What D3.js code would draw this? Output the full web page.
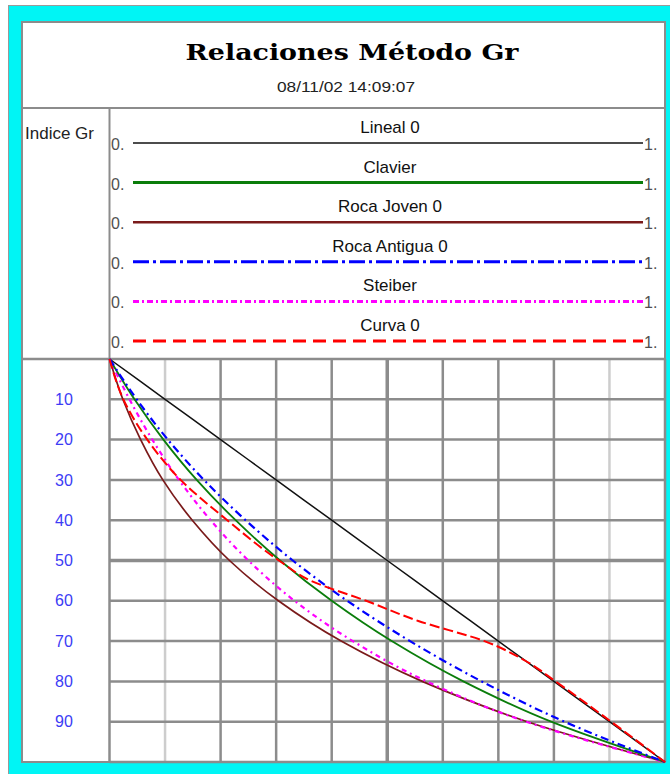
<!DOCTYPE html>
<html>
<head>
<meta charset="utf-8">
<script src="https://cdn.jsdelivr.net/npm/d3@7"></script>
<style>
  body { margin: 0; background: #fff; }
  text { font-family: "Liberation Sans", Arial, sans-serif; }
</style>
</head>
<body>
<div id="chart"></div>
<script>
// Relaciones Metodo Gr - Vsh vs Indice Gr

var width = 670
var height = 774

// data (Vsh fraction at each Indice Gr %)
var igr = [0, 10, 20, 30, 40, 50, 60, 70, 80, 90, 100]
var lineal = [0, 0.1, 0.2, 0.3, 0.4, 0.5, 0.6, 0.7, 0.8, 0.9, 1.0]
var clavier = [0, 0.045, 0.097, 0.157, 0.227, 0.307, 0.400, 0.508, 0.637, 0.795, 1.0]
var rocaJoven = [0, 0.024, 0.056, 0.096, 0.149, 0.216, 0.304, 0.417, 0.563, 0.752, 1.0]
var rocaAntigua = [0, 0.049, 0.105, 0.170, 0.245, 0.330, 0.428, 0.541, 0.670, 0.819, 1.0]
var steiber = [0, 0.036, 0.077, 0.125, 0.182, 0.250, 0.333, 0.438, 0.571, 0.750, 1.0]
var curvaIgr = [0, 10, 20, 30, 40, 50, 55, 60, 65, 70, 75, 80, 90, 100]
var curva = [0, 0.025, 0.068, 0.128, 0.212, 0.305, 0.362, 0.462, 0.556, 0.675, 0.750, 0.803, 0.903, 1.0]

var legendNames = ["Lineal 0", "Clavier", "Roca Joven 0", "Roca Antigua 0", "Steiber", "Curva 0"]
var yTickLabels = [10, 20, 30, 40, 50, 60, 70, 80, 90]

// styles per series
var series = [
  { name: "Lineal 0", ys: igr, xs: lineal, color: "#111", w: 1.5, legW: 1.5, dash: null, legDash: null },
  { name: "Clavier", ys: igr, xs: clavier, color: "#0a7d0a", w: 1.8, legW: 3, dash: null, legDash: null },
  { name: "Roca Joven 0", ys: igr, xs: rocaJoven, color: "#7a1a1a", w: 1.7, legW: 2.5, dash: null, legDash: null },
  { name: "Roca Antigua 0", ys: igr, xs: rocaAntigua, color: "#0000ff", w: 2.2, legW: 3, dash: "8,4,2,4", legDash: "16,4,3,4" },
  { name: "Steiber", ys: igr, xs: steiber, color: "#ff00ff", w: 2.2, legW: 3, dash: "5,4,2,4", legDash: "6,3,2,3" },
  { name: "Curva 0", ys: curvaIgr, xs: curva, color: "#ff0000", w: 2, legW: 3, dash: "10,4", legDash: "13,7" }
]

var svg = d3.select("#chart")
  .append("svg")
    .attr("width", width)
    .attr("height", height)

// outer cyan frame
svg.append("rect")
  .attr("x", 8.5).attr("y", 5.5)
  .attr("width", 700).attr("height", 800)
  .style("fill", "#00f5f5")
  .style("stroke", "#9a9a9a")

// white panel
var px0 = 22, px1 = 665, py0 = 22, py1 = 762
svg.append("rect")
  .attr("x", px0).attr("y", py0)
  .attr("width", px1 - px0).attr("height", py1 - py0)
  .style("fill", "#fff")
  .style("stroke", "#8c8c8c")
  .style("stroke-width", 2)

var gridColor = "#8c8c8c"

// title block
svg.append("line")
  .attr("x1", px0).attr("x2", px1).attr("y1", 108).attr("y2", 108)
  .style("stroke", gridColor).style("stroke-width", 2)

svg.append("text")
  .attr("x", 352).attr("y", 60)
  .attr("text-anchor", "middle")
  .attr("textLength", 333)
  .attr("lengthAdjust", "spacingAndGlyphs")
  .style("font-family", "'DejaVu Serif', serif")
  .style("font-weight", "bold")
  .style("font-size", "23px")
  .text("Relaciones Método Gr")

svg.append("text")
  .attr("x", 346).attr("y", 92)
  .attr("text-anchor", "middle")
  .attr("textLength", 138)
  .attr("lengthAdjust", "spacingAndGlyphs")
  .style("font-size", "14px")
  .style("fill", "#222")
  .text("08/11/02 14:09:07")

// legend block
var plotLeft = 109.5, plotRight = 665, plotTop = 359, plotBottom = 762

svg.append("line")
  .attr("x1", plotLeft).attr("x2", plotLeft).attr("y1", 108).attr("y2", plotTop)
  .style("stroke", gridColor).style("stroke-width", 2)

svg.append("text")
  .attr("x", 25).attr("y", 139)
  .style("font-size", "17px")
  .style("fill", "#222")
  .text("Indice Gr")

var legY = d3.scalePoint().domain(legendNames).range([143, 341])
var legX = d3.scaleLinear().domain([0, 1]).range([133, 643])

var leg = svg.append("g")
  .selectAll("g")
  .data(series)
  .enter()
  .append("g")

leg.append("line")
  .attr("x1", legX(0)).attr("x2", legX(1))
  .attr("y1", function(d) { return legY(d.name) })
  .attr("y2", function(d) { return legY(d.name) })
  .style("stroke", function(d) { return d.color })
  .style("stroke-width", function(d) { return d.legW })
  .style("stroke-dasharray", function(d) { return d.legDash })

leg.append("text")
  .attr("x", 390)
  .attr("y", function(d) { return legY(d.name) - 10 })
  .attr("text-anchor", "middle")
  .style("font-size", "17px")
  .style("fill", "#111")
  .text(function(d) { return d.name })

leg.append("text")
  .attr("x", 111)
  .attr("y", function(d) { return legY(d.name) + 7 })
  .style("font-size", "16px")
  .style("fill", "#505050")
  .text("0.")

leg.append("text")
  .attr("x", 644)
  .attr("y", function(d) { return legY(d.name) + 7 })
  .style("font-size", "16px")
  .style("fill", "#505050")
  .text("1.")

// chart block
var x = d3.scaleLinear().domain([0, 1]).range([plotLeft, plotRight])
var y = d3.scaleLinear().domain([0, 100]).range([plotTop, plotBottom])

var grid = svg.append("g")

grid.selectAll("line.v")
  .data(x.ticks(10))
  .enter()
  .append("line")
    .attr("class", "v")
    .attr("x1", function(d) { return x(d) })
    .attr("x2", function(d) { return x(d) })
    .attr("y1", plotTop).attr("y2", plotBottom)
    .style("stroke", function(d) { return (Math.abs(d - 0.1) < 1e-6 || Math.abs(d - 0.9) < 1e-6) ? "#cdcdcd" : gridColor })
    .style("stroke-width", function(d) { return Math.abs(d - 0.5) < 1e-6 ? 3.5 : 2.5 })

grid.selectAll("line.h")
  .data(y.ticks(10))
  .enter()
  .append("line")
    .attr("class", "h")
    .attr("x1", function(d) { return d === 0 ? px0 : plotLeft })
    .attr("x2", plotRight)
    .attr("y1", function(d) { return y(d) })
    .attr("y2", function(d) { return y(d) })
    .style("stroke", gridColor)
    .style("stroke-width", function(d) { return d === 50 ? 3.5 : 2.5 })

svg.append("g")
  .selectAll("text")
  .data(yTickLabels)
  .enter()
  .append("text")
    .attr("x", 64)
    .attr("y", function(d) { return y(d) })
    .attr("dy", "0.35em")
    .attr("text-anchor", "middle")
    .style("font-size", "16px")
    .style("fill", "#3c3cf5")
    .text(function(d) { return d })

var line = d3.line()
  .x(function(d) { return x(d[0]) })
  .y(function(d) { return y(d[1]) })
  .curve(d3.curveMonotoneY)

var drawOrder = ["Lineal 0", "Roca Joven 0", "Steiber", "Clavier", "Roca Antigua 0", "Curva 0"]

svg.append("g")
  .selectAll("path")
  .data(drawOrder.map(function(n) { return series.find(function(s) { return s.name === n }) }))
  .enter()
  .append("path")
    .attr("d", function(d) { return line(d.xs.map(function(v, i) { return [v, d.ys[i]] })) })
    .style("fill", "none")
    .style("stroke", function(d) { return d.color })
    .style("stroke-width", function(d) { return d.w })
    .style("stroke-dasharray", function(d) { return d.dash })
</script>
</body>
</html>
